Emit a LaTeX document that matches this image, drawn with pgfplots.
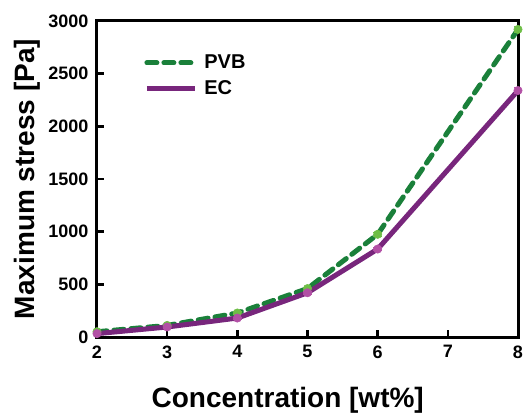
\documentclass[border=0pt]{standalone}
\usepackage{fontspec}
\setmainfont{Liberation Sans}
\usepackage{pgfplots}
\pgfplotsset{compat=1.18}
\definecolor{pvbline}{RGB}{26,128,58}
\definecolor{pvbfill}{RGB}{110,190,70}
\definecolor{ecline}{RGB}{120,38,124}
\definecolor{ecfill}{RGB}{178,80,165}
\begin{document}
\begin{tikzpicture}
\begin{axis}[
    name=main,
    width=421pt, height=316pt,
    scale only axis,
    xmin=2, xmax=8, ymin=0, ymax=3000,
    xtick={2,...,8}, ytick={0,500,...,3000},
    tick align=inside,
    major tick length=7pt,
    xtick pos=bottom, ytick pos=left,
    axis line style={line width=3pt},
    every tick/.style={black, line width=2.5pt},
    tick label style={font=\fontsize{18}{20}\selectfont\bfseries},
    xticklabel style={yshift=-5pt},
    yticklabel style={xshift=-5pt},
    /pgf/number format/assume math mode=true,
    /pgf/number format/1000 sep={},
    xlabel={Concentration [wt\%]},
    ylabel={Maximum stress [Pa]},
    label style={font=\fontsize{28}{30}\selectfont\bfseries},
    xlabel style={at={(axis description cs:0.453,-0.2)}, anchor=center},
    ylabel style={at={(axis description cs:-0.166,0.5)}, anchor=center},
    legend style={draw=none, fill=none, at={(0.105,0.905)}, anchor=north west,
        font=\fontsize{20}{22}\selectfont\bfseries, row sep=6pt,
        nodes={inner xsep=7pt}},
    legend cell align=left,
    legend image code/.code={\draw[#1] (0pt,0pt) -- (48pt,0pt);},
]
\addplot+[pvbline, line width=5pt, dash pattern=on 10pt off 7pt, line cap=round,
    mark=*, mark size=4.2pt, mark options={solid, fill=pvbfill, draw=pvbfill, line width=0.5pt},
    error bars/.cd, y dir=both, y explicit, error bar style={solid, line width=1.5pt, pvbfill}]
coordinates {
    (2,50) +- (0,10) (3,110) +- (0,10) (4,228) +- (0,15) (5,460) +- (0,15)
    (6,975) +- (0,20) (8,2920) +- (0,30)
};
\addlegendentry{PVB}
\addplot+[ecline, line width=5pt, solid,
    mark=*, mark size=4.2pt, mark options={fill=ecfill, draw=ecfill, line width=0.5pt},
    error bars/.cd, y dir=both, y explicit, error bar style={line width=1.5pt, ecfill}]
coordinates {
    (2,32) +- (0,10) (3,95) +- (0,10) (4,180) +- (0,12) (5,420) +- (0,15)
    (6,835) +- (0,15) (8,2340) +- (0,30)
};
\addlegendentry{EC}
\end{axis}
\pgfresetboundingbox
\path[use as bounding box] ([xshift=-97pt,yshift=-75pt]main.south west) rectangle ([xshift=6pt,yshift=21pt]main.north east);
\end{tikzpicture}
\end{document}
